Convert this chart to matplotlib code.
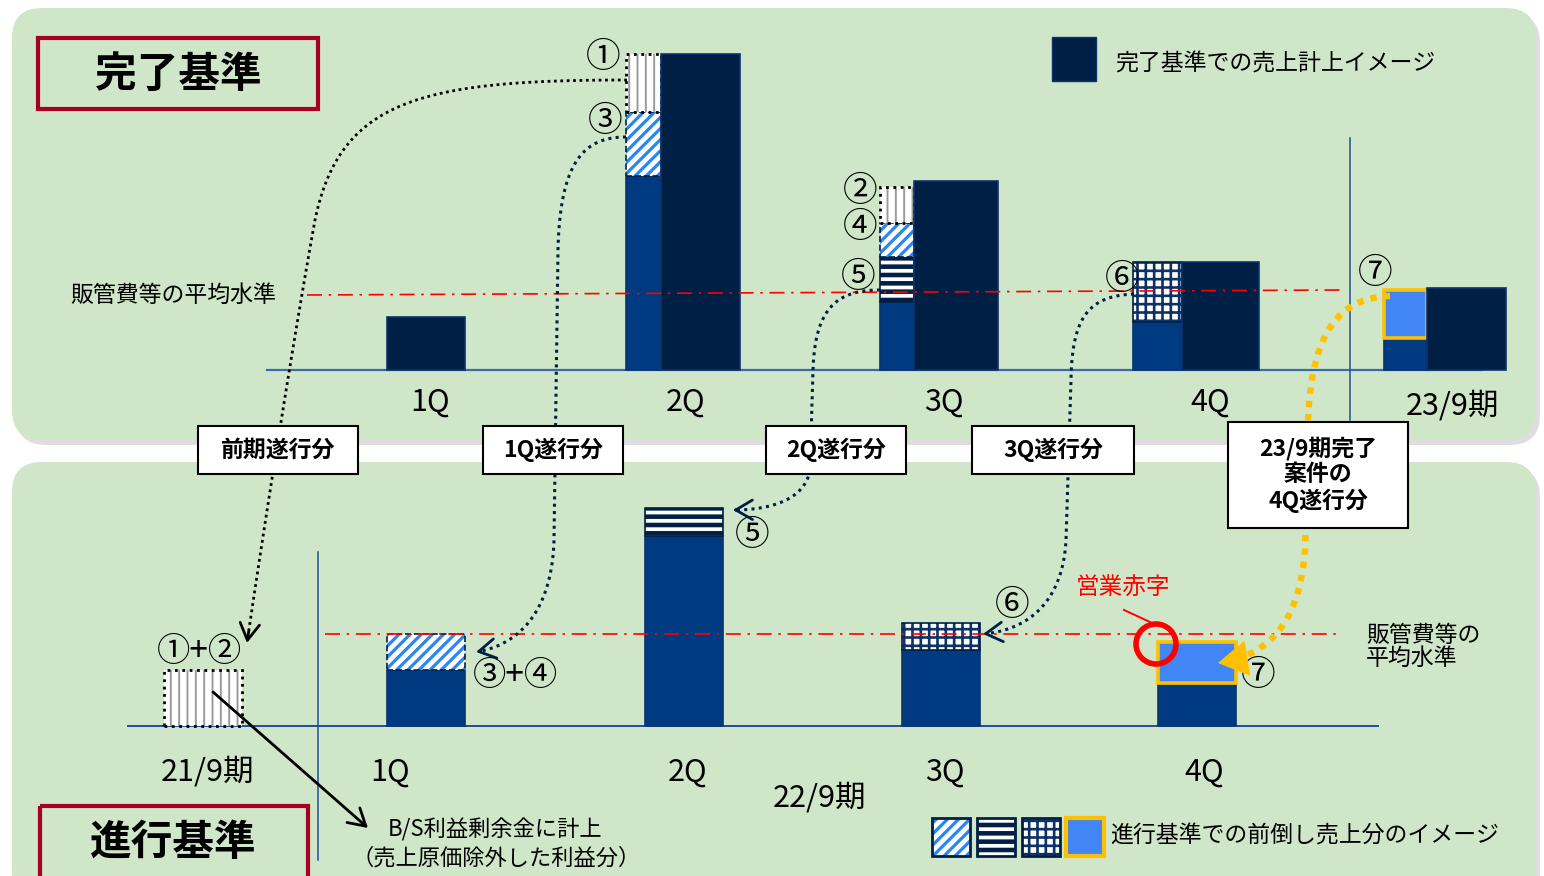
import matplotlib
matplotlib.use("Agg")
import matplotlib.pyplot as plt
from matplotlib.patches import FancyBboxPatch, Rectangle, Circle
import numpy as np

plt.rcParams["font.family"] = ["Noto Sans CJK JP", "DejaVu Sans"]

# ---- data (bar heights, same unit in both panels) ----
top_labels = ["1Q", "2Q", "3Q", "4Q", "23/9期"]
top_done = [53, 316, 189, 108, 82]      # 完了基準での売上計上
top_base = [0, 194, 68, 48, 32]         # 進行基準で当期に計上済みの部分
top_q4 = [0, 0, 0, 0, 48]               # ⑦
top_q3 = [0, 0, 0, 60, 0]               # ⑥
top_q2 = [0, 0, 45, 0, 0]               # ⑤
top_q1 = [0, 64, 34, 0, 0]              # ③ ④
top_prev = [0, 58, 36, 0, 0]            # ① ②

bot_labels = ["21/9期", "1Q", "2Q", "3Q", "4Q"]
bot_base = [0, 56, 190, 76, 43]
bot_q4 = [0, 0, 0, 0, 41]
bot_q3 = [0, 0, 0, 27, 0]
bot_q2 = [0, 0, 28, 0, 0]
bot_q1 = [0, 36, 0, 0, 0]
bot_prev = [56, 0, 0, 0, 0]

# ---- colours ----
NAVY = "#001f45"
BLUE = "#003a80"
LIGHT = "#4285f4"
YELLOW = "#ffc000"
HATCH_BLUE = "#2a86f2"
PANEL = "#d0e6c8"
CRIMSON = "#a50021"
RED = "#ff0000"
AXIS = "#1f4e9a"

STYLES = {
    "done": dict(fc=NAVY, ec="#0b3370", lw=1.2),
    "base": dict(fc=BLUE, ec="#0b3370", lw=1.2),
    "q4": dict(fc=LIGHT, ec=YELLOW, lw=2.6),
    "q3": dict(fc="white", hatch="++", hc="#0d3266", hlw=1.9, ec=NAVY, lw=1.2),
    "q2": dict(fc=NAVY, hatch="--", hc="white", hlw=2.7, ec=NAVY, lw=1.2),
    "q1": dict(fc="white", hatch="///", hc=HATCH_BLUE, hlw=2.3, ec=NAVY, lw=1.2, ls="--"),
    "prev": dict(fc="white", hatch="||", hc="#9a9a9a", hlw=1.4, ec="black", lw=2.0, ls=":"),
}

W, H = 1544, 876
TOP_BASE_Y, BOT_BASE_Y = 370, 726


def add_box(ax, lefts, heights, widths, bottoms, key):
    st = STYLES[key]
    if st.get("hatch"):
        with plt.rc_context({"hatch.linewidth": st["hlw"]}):
            bars = ax.bar(lefts, heights, width=widths, bottom=bottoms, align="edge",
                          color=st["fc"], edgecolor=st["hc"], linewidth=0, hatch=st["hatch"])
            for p in bars:
                if hasattr(p, "set_hatch_linewidth"):
                    p.set_hatch_linewidth(st["hlw"])
        ax.bar(lefts, heights, width=widths, bottom=bottoms, align="edge", fill=False,
               edgecolor=st["ec"], linewidth=st["lw"], linestyle=st.get("ls", "-"))
    else:
        ax.bar(lefts, heights, width=widths, bottom=bottoms, align="edge",
               color=st["fc"], edgecolor=st["ec"], linewidth=st["lw"])


def draw_stack(ax, lefts, widths, layers):
    lefts = np.asarray(lefts, float)
    widths = np.asarray(widths, float)
    bottoms = np.zeros(len(lefts))
    for values, key in layers:
        vals = np.asarray(values, float)
        keep = vals > 0
        if keep.any():
            add_box(ax, lefts[keep], vals[keep], widths[keep], bottoms[keep], key)
        bottoms += vals


def bezier(p0, p1, p2, p3, n=60):
    t = np.linspace(0, 1, n)[:, None]
    p0, p1, p2, p3 = (np.asarray(p, float) for p in (p0, p1, p2, p3))
    return (1 - t) ** 3 * p0 + 3 * (1 - t) ** 2 * t * p1 + 3 * (1 - t) * t ** 2 * p2 + t ** 3 * p3


def curve(pieces):
    out = []
    for piece in pieces:
        out.append(bezier(*piece) if len(piece) == 4 else np.array(piece, float))
    return np.vstack(out)


def dotted_arrow(ax, pieces, color, lw=2.2, dash=(1, 1.4), head="->", hl=0.6, hw=0.35, hlw=2.0):
    pts = curve(pieces)
    ax.plot(pts[:-2, 0], pts[:-2, 1], color=color, lw=lw, linestyle=(0, dash), zorder=5)
    ax.annotate("", xy=pts[-1], xytext=pts[-3],
                arrowprops=dict(arrowstyle=f"{head},head_length={hl},head_width={hw}",
                                color=color, lw=hlw, mutation_scale=20, shrinkA=0, shrinkB=0),
                zorder=5)


fig = plt.figure(figsize=(W / 100, H / 100), dpi=100)


def pixel_axes():
    a = fig.add_axes([0, 0, 1, 1])
    a.set_xlim(0, W)
    a.set_ylim(H, 0)
    a.axis("off")
    a.patch.set_alpha(0)
    return a


ax_bg = pixel_axes()
ax_bg.patch.set_alpha(1)
ax_bg.patch.set_facecolor("white")

# panels with soft shadow
for (x, y, w, h) in [(12, 8, 1524, 432), (12, 462, 1524, 440)]:
    ax_bg.add_patch(FancyBboxPatch((x + 4, y + 5), w, h, boxstyle="round,pad=0,rounding_size=30",
                                   fc="#c4c4c4", ec="none", alpha=0.55))
    ax_bg.add_patch(FancyBboxPatch((x, y), w, h, boxstyle="round,pad=0,rounding_size=30",
                                   fc=PANEL, ec="none"))

# bar axes: x in pixels, y in bar units with baseline at 0
ax_top = fig.add_axes([0, 0, 1, 1])
ax_top.set_xlim(0, W)
ax_top.set_ylim(TOP_BASE_Y - H, TOP_BASE_Y)
ax_top.axis("off")
ax_top.patch.set_alpha(0)

ax_bot = fig.add_axes([0, 0, 1, 1])
ax_bot.set_xlim(0, W)
ax_bot.set_ylim(BOT_BASE_Y - H, BOT_BASE_Y)
ax_bot.axis("off")
ax_bot.patch.set_alpha(0)

# --- top panel: 完了基準 ---
top_prog_left = [387, 626, 880, 1133, 1384]
top_prog_w = [35, 35, 34, 49, 43]
top_done_left = [387, 661, 914, 1182, 1427]
top_done_w = [78, 79, 84, 77, 79]
top_label_x = [430, 686, 944, 1210, 1452]

ax_top.plot([267, 1482], [0, 0], color="#3d6aa8", lw=1.6, zorder=1)
ax_top.plot([1350, 1350], [TOP_BASE_Y - 138, TOP_BASE_Y - 420], color=AXIS, lw=1.1)
draw_stack(ax_top, top_prog_left, top_prog_w,
           [(top_base, "base"), (top_q4, "q4"), (top_q3, "q3"),
            (top_q2, "q2"), (top_q1, "q1"), (top_prev, "prev")])
draw_stack(ax_top, top_done_left, top_done_w, [(top_done, "done")])
for x, lab in zip(top_label_x, top_labels):
    ax_top.text(x, -32 if lab != "23/9期" else -36, lab, ha="center", va="center", fontsize=22)

# --- bottom panel: 進行基準 ---
bot_left = [164, 387, 645, 902, 1158]
bot_w = [78, 78, 78, 78, 78]
bot_label_x = [207, 390, 688, 945, 1204]

ax_bot.plot([128, 1378], [0, 0], color=AXIS, lw=1.4, zorder=1)
ax_bot.plot([318, 318], [BOT_BASE_Y - 552, BOT_BASE_Y - 860], color=AXIS, lw=1.1)
draw_stack(ax_bot, bot_left, bot_w,
           [(bot_base, "base"), (bot_q4, "q4"), (bot_q3, "q3"),
            (bot_q2, "q2"), (bot_q1, "q1"), (bot_prev, "prev")])
for x, lab in zip(bot_label_x, bot_labels):
    ax_bot.text(x, -46, lab, ha="center", va="center", fontsize=22)
ax_bot.text(820, -72, "22/9期", ha="center", va="center", fontsize=22)

# --- overlay: guides, arrows, labels ---
ax = pixel_axes()
redline = dict(color=RED, lw=1.2, linestyle=(0, (9, 4, 1.5, 4)))
ax.plot([307, 1340], [295, 290], **redline)
ax.plot([325, 1340], [634, 634], **redline)
ax.text(70, 295, "販管費等の平均水準", ha="left", va="center", fontsize=16.5)
ax.text(1366, 647, "販管費等の\n平均水準", ha="left", va="center", fontsize=16.5, linespacing=1.05)

# title boxes
ax.add_patch(Rectangle((38, 38), 280, 71, fill=False, ec=CRIMSON, lw=3))
ax.text(178, 75, "完了基準", ha="center", va="center", fontsize=30, fontweight="bold")
ax.add_patch(Rectangle((40, 806), 268, 90, fill=False, ec=CRIMSON, lw=3))
ax.text(173, 843, "進行基準", ha="center", va="center", fontsize=30, fontweight="bold")

# legends
ax.add_patch(Rectangle((1052, 37), 44, 44, fc=NAVY, ec="#0b3370", lw=1))
ax.text(1115, 64, "完了基準での売上計上イメージ", ha="left", va="center", fontsize=16.5)
leg_keys = ["q1", "q2", "q3", "q4"]
leg_left = [932, 977, 1022, 1066]
for key, lx in zip(leg_keys, leg_left):
    st = STYLES[key]
    if st.get("hatch"):
        with plt.rc_context({"hatch.linewidth": st["hlw"]}):
            p = Rectangle((lx, 818), 38, 38, fc=st["fc"], ec=st["hc"], lw=0, hatch=st["hatch"])
            if hasattr(p, "set_hatch_linewidth"):
                p.set_hatch_linewidth(st["hlw"])
            ax.add_patch(p)
        ax.add_patch(Rectangle((lx, 818), 38, 38, fill=False, ec=NAVY, lw=2))
    else:
        ax.add_patch(Rectangle((lx, 818), 38, 38, fc=st["fc"], ec=st["ec"], lw=3))
ax.text(1110, 836, "進行基準での前倒し売上分のイメージ", ha="left", va="center", fontsize=16.5)

# circled numbers
marks = [("①", 603, 58), ("③", 605, 122), ("②", 860, 191), ("④", 860, 227),
         ("⑤", 858, 277), ("⑥", 1122, 279), ("⑦", 1375, 273),
         ("⑤", 752, 536), ("⑥", 1012, 605), ("⑦", 1258, 675)]
for txt, x, y in marks:
    ax.text(x, y, txt, ha="center", va="center", fontsize=25)
for txt, x, y in [("①+②", 199, 651), ("③+④", 516, 675)]:
    ax.text(x, y, txt, ha="center", va="center", fontsize=24)

# dotted transfer arrows
dotted_arrow(ax, [((627, 80), (420, 80), (340, 100), (315, 220)),
                  ((315, 220), (295, 330), (265, 520), (247, 643))],
             "black", lw=2.0, dash=(1, 1.3))
dotted_arrow(ax, [((626, 137), (585, 137), (560, 160), (558, 250)),
                  [(558, 250), (554, 540)],
                  ((554, 540), (552, 610), (520, 645), (476, 652))], NAVY)
dotted_arrow(ax, [((880, 290), (835, 290), (815, 310), (813, 370)),
                  [(813, 370), (810, 470)],
                  ((810, 470), (805, 500), (770, 510), (733, 510))], NAVY)
dotted_arrow(ax, [((1134, 294), (1090, 296), (1072, 315), (1071, 380)),
                  [(1071, 380), (1066, 540)],
                  ((1066, 540), (1063, 600), (1030, 630), (983, 634))], NAVY)
dotted_arrow(ax, [((1390, 296), (1340, 298), (1312, 330), (1308, 420)),
                  [(1308, 420), (1305, 550)],
                  ((1305, 550), (1300, 615), (1275, 655), (1218, 663))],
             YELLOW, lw=4.6, dash=(1, 1.1), head="-|>", hl=1.0, hw=0.6, hlw=1.0)

# B/S arrow and note
ax.annotate("", xy=(368, 828), xytext=(213, 692),
            arrowprops=dict(arrowstyle="->,head_length=0.6,head_width=0.35", color="black",
                            lw=2, mutation_scale=20, shrinkA=0, shrinkB=0))
ax.text(495, 830, "B/S利益剰余金に計上", ha="center", va="center", fontsize=16)
ax.text(496, 858, "（売上原価除外した利益分）", ha="center", va="center", fontsize=16)

# 営業赤字
ax.add_patch(Circle((1156, 644), 20, fill=False, ec=RED, lw=4, zorder=6))
ax.plot([1124, 1150], [610, 622], color=RED, lw=1.4)
ax.text(1123, 588, "営業赤字", ha="center", va="center", fontsize=17, color=RED)

# period boxes (drawn over the dotted arrows)
boxes = [((198, 426, 160, 48), "前期遂行分"),
         ((483, 426, 140, 48), "1Q遂行分"),
         ((766, 426, 140, 48), "2Q遂行分"),
         ((972, 426, 162, 48), "3Q遂行分"),
         ((1228, 422, 180, 106), "23/9期完了\n案件の\n4Q遂行分")]
for (x, y, w, h), txt in boxes:
    ax.add_patch(Rectangle((x, y), w, h, fc="white", ec="black", lw=1.5, zorder=8))
    ax.text(x + w / 2, y + h / 2, txt, ha="center", va="center", fontsize=16.5,
            fontweight="bold", linespacing=1.15, zorder=9)

fig.savefig("out.png", dpi=100)
